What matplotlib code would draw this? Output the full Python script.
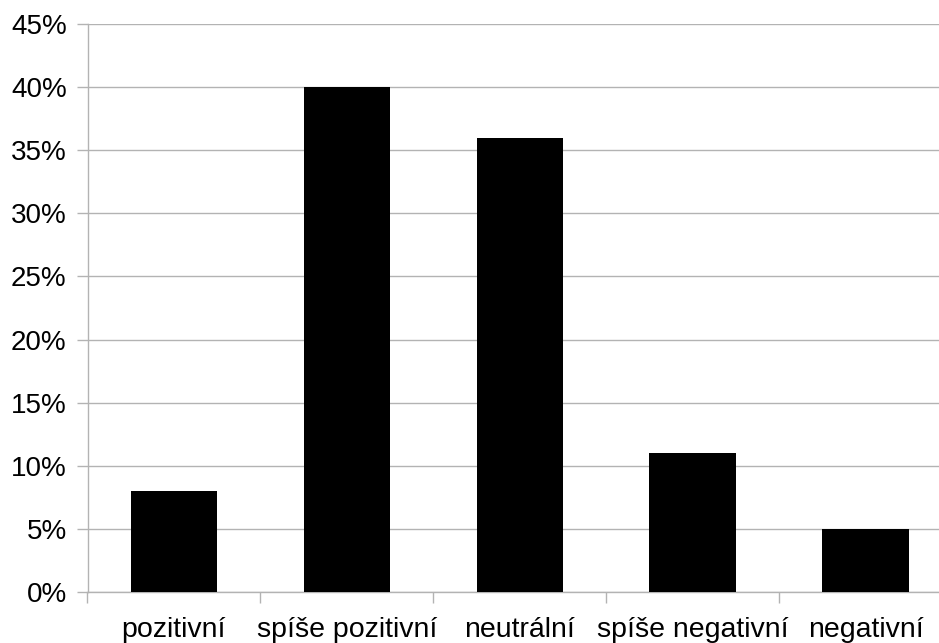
import matplotlib
matplotlib.use('Agg')
import numpy as np
from matplotlib import pyplot as plt
from matplotlib.ticker import FixedLocator

categories = ['pozitivní', 'spíše pozitivní', 'neutrální', 'spíše negativní', 'negativní']
values = [8, 40, 36, 11, 5]
yticks = [0, 5, 10, 15, 20, 25, 30, 35, 40, 45]

plt.rcParams['font.family'] = ['Liberation Sans', 'DejaVu Sans']
grid_col = '#b3b3b3'

fig = plt.figure(figsize=(9.39, 6.43), dpi=100)
W, H = 939, 643
ax = fig.add_axes([87.5 / W, 51 / H, (952 - 87.5) / W, 568 / H])

x = np.arange(len(categories))
ax.bar(x, values, width=0.5, color='black', zorder=3)

ax.set_xlim(-0.5, len(categories) - 0.5)
ax.set_ylim(0, 45)
ax.set_yticks(yticks)
ax.set_yticklabels([f'{t}%' for t in yticks], fontsize=20)
ax.yaxis.grid(True, color=grid_col, linewidth=1)
ax.set_axisbelow(True)

ax.set_xticks(x)
ax.set_xticklabels(categories, fontsize=20.5)
ax.xaxis.set_minor_locator(FixedLocator(np.arange(len(categories) + 1) - 0.5))
ax.tick_params(axis='x', which='major', length=0, pad=18)
ax.tick_params(axis='x', which='minor', length=8, color=grid_col, width=1)
ax.tick_params(axis='y', length=8, color=grid_col, width=1, pad=7)

for s in ['top', 'right']:
    ax.spines[s].set_visible(False)
for s in ['left', 'bottom']:
    ax.spines[s].set_color(grid_col)
    ax.spines[s].set_linewidth(1)

fig.savefig('out.png', dpi=100)
